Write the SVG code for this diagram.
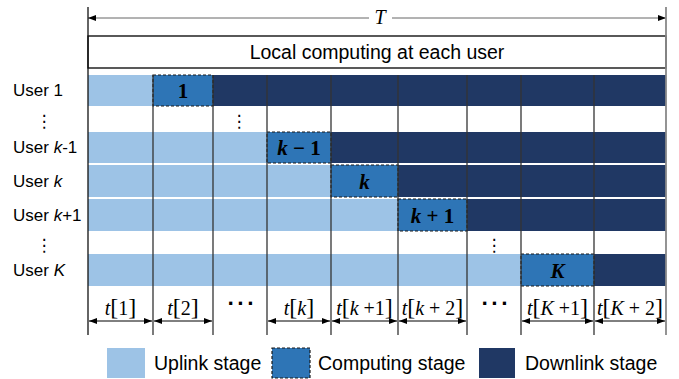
<svg xmlns="http://www.w3.org/2000/svg" width="679" height="379" viewBox="0 0 679 379">
  <style>
    .up { fill: #9DC3E6; }
    .cp { fill: #2E75B6; stroke: #1a1a1a; stroke-width: 1.2; stroke-dasharray: 3 2; }
    .dn { fill: #203864; }
    .grid { stroke: #333; stroke-width: 1.3; }
    .lbl { font-family: "Liberation Sans", Arial, sans-serif; font-size: 17px; fill: #000; }
    .leg { font-family: "Liberation Sans", Arial, sans-serif; font-size: 19.5px; fill: #000; }
    .cpt { font-family: "Liberation Serif", "Times New Roman", serif; font-size: 21px; font-weight: bold; fill: #000; text-anchor: middle; }
    .tt { font-family: "Liberation Serif", "Times New Roman", serif; font-size: 20px; fill: #000; text-anchor: middle; }
    .it { font-style: italic; }
    .br { font-size: 24px; }
    .vd { font-family: "DejaVu Sans", sans-serif; font-size: 17px; fill: #000; text-anchor: middle; }
    .hd { font-family: "DejaVu Sans", sans-serif; font-size: 18px; font-weight: bold; fill: #000; text-anchor: middle; letter-spacing: 3px; }
    .dim { stroke: #000; stroke-width: 1; fill: none; marker-start: url(#ah); marker-end: url(#ah); }
  </style>
  <defs>
    <marker id="ah" viewBox="0 0 8 6" refX="8" refY="3" markerWidth="8" markerHeight="6" markerUnits="userSpaceOnUse" orient="auto-start-reverse">
      <path d="M0,0 L8,3 L0,6 Z" fill="#000"/>
    </marker>
  </defs>

  <!-- total duration T -->
  <g id="total-time">
    <line x1="88" y1="18" x2="369" y2="18" stroke="#666" stroke-width="1" marker-start="url(#ah)"/>
    <line x1="392" y1="18" x2="666" y2="18" stroke="#666" stroke-width="1" marker-end="url(#ah)"/>
    <text x="380" y="24" class="tt it" font-size="19">T</text>
  </g>

  <!-- local computing phase -->
  <g id="local-computing">
    <rect x="88" y="36" width="578" height="32" fill="#fff" stroke="#000" stroke-width="1.3"/>
    <text x="377" y="59" class="leg" text-anchor="middle">Local computing at each user</text>
  </g>

  <!-- user rows -->
  <g id="user-1">
    <rect x="88" y="75" width="65" height="31" class="up"/>
    <rect x="213" y="75" width="453" height="31" class="dn"/>
    <rect x="153" y="75" width="60" height="31" class="cp"/>
    <text x="183" y="98" class="cpt">1</text>
    <text x="13" y="96" class="lbl">User 1</text>
  </g>
  <g id="user-k-1">
    <rect x="88" y="132" width="179" height="31" class="up"/>
    <rect x="331" y="132" width="335" height="31" class="dn"/>
    <rect x="267" y="132" width="64" height="31" class="cp"/>
    <text x="299" y="155" class="cpt"><tspan class="it">k</tspan> − 1</text>
    <text x="13" y="153" class="lbl">User <tspan class="it">k</tspan>-1</text>
  </g>
  <g id="user-k">
    <rect x="88" y="165" width="243" height="32" class="up"/>
    <rect x="398" y="165" width="268" height="32" class="dn"/>
    <rect x="331" y="165" width="67" height="32" class="cp"/>
    <text x="364.5" y="188.5" class="cpt it">k</text>
    <text x="13" y="187" class="lbl">User <tspan class="it">k</tspan></text>
  </g>
  <g id="user-k+1">
    <rect x="88" y="199" width="310" height="32" class="up"/>
    <rect x="467" y="199" width="199" height="32" class="dn"/>
    <rect x="398" y="199" width="69" height="32" class="cp"/>
    <text x="432.5" y="222.5" class="cpt"><tspan class="it">k</tspan> + 1</text>
    <text x="13" y="221" class="lbl">User <tspan class="it">k</tspan>+1</text>
  </g>
  <g id="user-K">
    <rect x="88" y="254" width="433" height="32" class="up"/>
    <rect x="594" y="254" width="72" height="32" class="dn"/>
    <rect x="521" y="254" width="73" height="32" class="cp"/>
    <text x="557.5" y="277.5" class="cpt it">K</text>
    <text x="13" y="276" class="lbl">User <tspan class="it">K</tspan></text>
  </g>

  <!-- vertical ellipses between users -->
  <g id="ellipses">
    <text x="44" y="127" class="vd">⋮</text>
    <text x="239" y="127" class="vd">⋮</text>
    <text x="44" y="251" class="vd">⋮</text>
    <text x="494" y="251" class="vd">⋮</text>
  </g>

  <!-- slot boundaries -->
  <g id="grid">
    <line x1="88" y1="7" x2="88" y2="335" stroke="#111" stroke-width="1.3"/>
    <line x1="666" y1="7" x2="666" y2="335" stroke="#888" stroke-width="1.8"/>
    <line x1="153" y1="75" x2="153" y2="335" class="grid"/>
    <line x1="213" y1="75" x2="213" y2="335" class="grid"/>
    <line x1="267" y1="75" x2="267" y2="335" class="grid"/>
    <line x1="331" y1="75" x2="331" y2="335" class="grid"/>
    <line x1="398" y1="75" x2="398" y2="335" class="grid"/>
    <line x1="467" y1="75" x2="467" y2="335" class="grid"/>
    <line x1="521" y1="75" x2="521" y2="335" class="grid"/>
    <line x1="594" y1="75" x2="594" y2="335" class="grid"/>
  </g>

  <!-- slot durations -->
  <g id="connectors">
    <line x1="89" y1="321" x2="152" y2="321" class="dim"/>
    <line x1="154" y1="321" x2="212" y2="321" class="dim"/>
    <line x1="268" y1="321" x2="330" y2="321" class="dim"/>
    <line x1="332" y1="321" x2="397" y2="321" class="dim"/>
    <line x1="399" y1="321" x2="466" y2="321" class="dim"/>
    <line x1="522" y1="321" x2="593" y2="321" class="dim"/>
    <line x1="595" y1="321" x2="665" y2="321" class="dim"/>
  </g>
  <g id="slot-labels">
    <text x="120.5" y="315" class="tt"><tspan class="it">t</tspan><tspan class="br">[</tspan>1<tspan class="br">]</tspan></text>
    <text x="183" y="315" class="tt"><tspan class="it">t</tspan><tspan class="br">[</tspan>2<tspan class="br">]</tspan></text>
    <text x="242" y="310" class="hd">···</text>
    <text x="299" y="315" class="tt"><tspan class="it">t</tspan><tspan class="br">[</tspan><tspan class="it">k</tspan><tspan class="br">]</tspan></text>
    <text x="364.5" y="315" class="tt"><tspan class="it">t</tspan><tspan class="br">[</tspan><tspan class="it">k</tspan> +1<tspan class="br">]</tspan></text>
    <text x="432.5" y="315" class="tt"><tspan class="it">t</tspan><tspan class="br">[</tspan><tspan class="it">k</tspan> + 2<tspan class="br">]</tspan></text>
    <text x="496" y="310" class="hd">···</text>
    <text x="557.5" y="315" class="tt"><tspan class="it">t</tspan><tspan class="br">[</tspan><tspan class="it">K</tspan> +1<tspan class="br">]</tspan></text>
    <text x="630" y="315" class="tt"><tspan class="it">t</tspan><tspan class="br">[</tspan><tspan class="it">K</tspan> + 2<tspan class="br">]</tspan></text>
  </g>

  <!-- legend -->
  <g id="legend">
    <rect x="107" y="348" width="38" height="30" class="up"/>
    <text x="154" y="370" class="leg">Uplink stage</text>
    <rect x="272" y="348" width="38" height="30" class="cp"/>
    <text x="318" y="370" class="leg">Computing stage</text>
    <rect x="479" y="348" width="36" height="30" class="dn"/>
    <text x="525" y="370" class="leg">Downlink stage</text>
  </g>
</svg>
